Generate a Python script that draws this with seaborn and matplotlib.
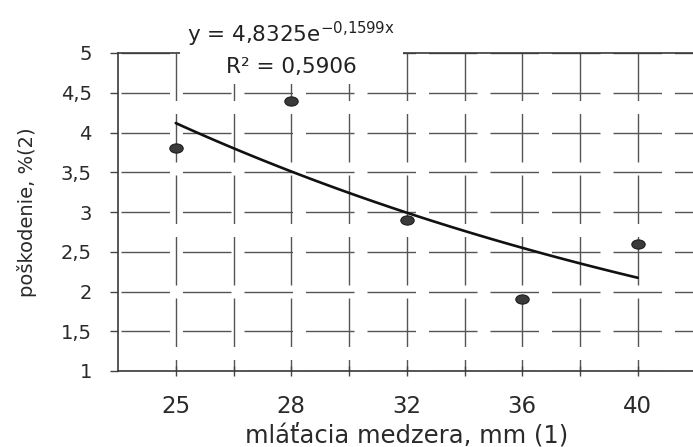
import numpy as np
import matplotlib
matplotlib.use("Agg")
import matplotlib.pyplot as plt
from matplotlib.markers import MarkerStyle
from matplotlib.transforms import Affine2D
import seaborn as sns

# threshing gap (categories) and measured grain damage
gap_mm = [25, 28, 32, 36, 40]
damage = [3.8, 4.4, 2.9, 1.9, 2.6]
y_ticks = [1, 1.5, 2, 2.5, 3, 3.5, 4, 4.5, 5]
y_tick_labels = ["1", "1,5", "2", "2,5", "3", "3,5", "4", "4,5", "5"]
eq_text = "y = 4,8325e$^{\\mathregular{-0{,}1599x}}$"
r2_text = "R\u00b2 = 0,5906"

sns.set_style("white")
plt.rcParams["font.family"] = ["DejaVu Sans"]
plt.rcParams["lines.scale_dashes"] = False

# Excel style category axis: points sit at 1..n
idx = np.arange(1, len(gap_mm) + 1)

# exponential trendline, fitted on ln(y) like Excel does
k, ln_a = np.polyfit(idx, np.log(damage), 1)
xs = np.linspace(idx[0], idx[-1], 60)
ys = np.exp(ln_a) * np.exp(k * xs)

fig = plt.figure(figsize=(6.93, 4.47), dpi=100)
ax = fig.add_axes([118 / 693, 76 / 447, 577.5 / 693, 318 / 447])

px = 0.72  # points per pixel at 100 dpi
grid_col = "#555555"

# dashed grid, same dash length both ways (as in the scan)
d_on, d_off = 48.5 * px, 13 * px
ax.set_xticks(idx)
ax.set_xticks(idx[:-1] + 0.5, minor=True)
ax.set_yticks(y_ticks)
ax.grid(True, axis="y", color=grid_col, lw=1.0,
        linestyle=(58.5 * px, (d_on, d_off)))
ax.grid(True, axis="x", which="both", color=grid_col, lw=1.0,
        linestyle=(37 * px, (d_on, d_off)))
ax.set_axisbelow(True)

sns.lineplot(x=xs, y=ys, color="#111111", lw=1.9, ax=ax, zorder=3)

ell = MarkerStyle("o", transform=Affine2D().scale(1.45, 1.0))
sns.scatterplot(x=idx, y=damage, marker=ell, s=44, color="#3a3a3a",
                edgecolor="#1e1e1e", linewidth=0.8, ax=ax, zorder=4)

ax.set_xlim(0.5, 5.5)
ax.set_ylim(1, 5)
ax.set_xticklabels([str(g) for g in gap_mm])
ax.set_yticklabels(y_tick_labels)

ax.tick_params(axis="x", which="both", direction="inout", length=7,
               width=1, color="#444444", bottom=True)
ax.tick_params(axis="x", which="major", labelsize=16.5, pad=14,
               labelcolor="#2a2a2a")
ax.tick_params(axis="y", direction="out", length=5.8, width=1,
               color="#444444", left=True, labelsize=14, pad=13,
               labelcolor="#2a2a2a")

for side in ["left", "bottom", "top"]:
    ax.spines[side].set_color("#3a3a3a")
    ax.spines[side].set_linewidth(1.2)
ax.spines["right"].set_visible(False)

ax.set_xlabel("mláťacia medzera, mm (1)", fontsize=17.5, color="#2a2a2a",
              labelpad=3.5)
ax.set_ylabel("poškodenie, %(2)", fontsize=14, color="#2a2a2a", labelpad=17.5)

ax.text(2.0, 1.016, eq_text + "\n" + r2_text, transform=ax.get_xaxis_transform(),
        ha="center", va="center", fontsize=15.5, color="#222222",
        linespacing=1.5, zorder=5,
        bbox=dict(boxstyle="square,pad=0.35", fc="white", ec="none"))

fig.savefig("out.png", dpi=100, facecolor="white")
